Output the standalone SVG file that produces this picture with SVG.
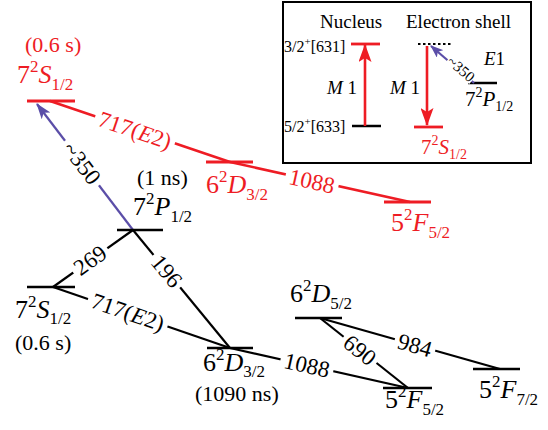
<svg xmlns="http://www.w3.org/2000/svg" width="548" height="430" viewBox="0 0 548 430">
<defs>
<style>
text{font-family:"Liberation Serif","Times New Roman",serif;}
.lv{font-size:26px;}
.lvs{font-size:21px;}
.s{font-size:17px;}
.ss{font-size:14px;}
.i{font-style:italic;}
.t{font-size:22px;}
.tl{font-size:23px;text-anchor:middle;}
.bg{fill:#fff;stroke:none;}
.red{fill:#ee1c24;}
.blk{fill:#000;}
.lk{stroke:#000;stroke-width:2.5;fill:none;}
.lr{stroke:#ee1c24;stroke-width:2.8;fill:none;}
.ck{stroke:#000;stroke-width:2.2;fill:none;}
.cr{stroke:#ee1c24;stroke-width:2.6;fill:none;}
.cb{stroke:#5b4ea8;stroke-width:2.2;fill:none;}
.in{font-size:19px;}
</style>
<marker id="ahR" markerUnits="userSpaceOnUse" markerWidth="18" markerHeight="13" viewBox="0 0 18 13" refX="17" refY="6.5" orient="auto">
<path d="M0,0 L18,6.5 L0,13 L4,6.5 z" fill="#ee1c24"/>
</marker>
<marker id="ahB" markerUnits="userSpaceOnUse" markerWidth="16" markerHeight="11" viewBox="0 0 16 11" refX="15" refY="5.5" orient="auto">
<path d="M0,0 L16,5.5 L0,11 L4,5.5 z" fill="#5b4ea8"/>
</marker>
<marker id="ahB2" markerUnits="userSpaceOnUse" markerWidth="13" markerHeight="10" viewBox="0 0 13 10" refX="12" refY="5" orient="auto">
<path d="M0,0 L13,5 L0,10 L3,5 z" fill="#5b4ea8"/>
</marker>
</defs>
<rect x="0" y="0" width="548" height="430" fill="#fff"/>

<g id="connectors">
<line class="cr" x1="50" y1="101" x2="230" y2="162"/>
<line class="cr" x1="230" y1="162" x2="410" y2="202"/>
<line class="cb" x1="133" y1="230" x2="37" y2="104" marker-end="url(#ahB)"/>
<line class="ck" x1="133" y1="230" x2="53" y2="287"/>
<line class="ck" x1="133" y1="230" x2="230" y2="348"/>
<line class="ck" x1="53" y1="287" x2="230" y2="348"/>
<line class="ck" x1="230" y1="348" x2="408" y2="388"/>
<line class="ck" x1="320" y1="318" x2="408" y2="388"/>
<line class="ck" x1="320" y1="318" x2="500" y2="369"/>
<g transform="translate(135,130) rotate(18.7)"><rect class="bg" x="-42" y="-10" width="84" height="20"/><text class="tl red" x="0" y="8">717(<tspan class="i">E</tspan>2)</text></g>
<g transform="translate(312,181) rotate(12.5)"><rect class="bg" x="-27" y="-10" width="54" height="20"/><text class="tl red" x="0" y="8">1088</text></g>
<g transform="translate(82,163) rotate(52.6)"><rect class="bg" x="-28" y="-10" width="56" height="20"/><text class="tl blk" x="0" y="8">~350</text></g>
<g transform="translate(90,260) rotate(-35.5)"><rect class="bg" x="-21" y="-10" width="42" height="20"/><text class="tl blk" x="0" y="8">269</text></g>
<g transform="translate(167,271) rotate(50.6)"><rect class="bg" x="-21" y="-10" width="42" height="20"/><text class="tl blk" x="0" y="8">196</text></g>
<g transform="translate(128,312) rotate(19)"><rect class="bg" x="-42" y="-10" width="84" height="20"/><text class="tl blk" x="0" y="8">717(<tspan class="i">E</tspan>2)</text></g>
<g transform="translate(307,365) rotate(12.7)"><rect class="bg" x="-27" y="-10" width="54" height="20"/><text class="tl blk" x="0" y="8">1088</text></g>
<g transform="translate(360,350) rotate(38.5)"><rect class="bg" x="-21" y="-10" width="42" height="20"/><text class="tl blk" x="0" y="8">690</text></g>
<g transform="translate(415,345) rotate(15.8)"><rect class="bg" x="-21" y="-10" width="42" height="20"/><text class="tl blk" x="0" y="8">984</text></g>
</g>

<g id="red-7S">
<line class="lr" x1="27" y1="101" x2="75" y2="101"/>
<text class="t red" x="25" y="52">(0.6 s)</text>
<text class="lv red" x="17" y="83">7<tspan class="s" dy="-11">2</tspan><tspan class="i" dy="11">S</tspan><tspan class="s" dy="7">1/2</tspan></text>
</g>
<g id="red-6D32">
<line class="lr" x1="206" y1="162" x2="253" y2="162"/>
<text class="lv red" x="206" y="193">6<tspan class="s" dy="-11">2</tspan><tspan class="i" dy="11">D</tspan><tspan class="s" dy="7">3/2</tspan></text>
</g>
<g id="red-5F52">
<line class="lr" x1="384" y1="202" x2="431" y2="202"/>
<text class="lv red" x="391" y="231">5<tspan class="s" dy="-11">2</tspan><tspan class="i" dy="11">F</tspan><tspan class="s" dy="7">5/2</tspan></text>
</g>

<g id="blk-7P">
<line class="lk" x1="117" y1="230" x2="163" y2="230"/>
<text class="t" x="137" y="185">(1 ns)</text>
<text class="lv" x="133" y="215">7<tspan class="s" dy="-11">2</tspan><tspan class="i" dy="11">P</tspan><tspan class="s" dy="7">1/2</tspan></text>
</g>
<g id="blk-7S">
<line class="lk" x1="27" y1="287" x2="75" y2="287"/>
<text class="lv" x="15" y="318">7<tspan class="s" dy="-11">2</tspan><tspan class="i" dy="11">S</tspan><tspan class="s" dy="6">1/2</tspan></text>
<text class="t" x="15" y="350">(0.6 s)</text>
</g>
<g id="blk-6D32">
<line class="lk" x1="207" y1="348" x2="253" y2="348"/>
<text class="lv" x="203" y="371">6<tspan class="s" dy="-11">2</tspan><tspan class="i" dy="11">D</tspan><tspan class="s" dy="6">3/2</tspan></text>
<text class="t" x="195" y="401">(1090 ns)</text>
</g>
<g id="blk-6D52">
<line class="lk" x1="295" y1="318" x2="342" y2="318"/>
<text class="lv" x="290" y="302">6<tspan class="s" dy="-11">2</tspan><tspan class="i" dy="11">D</tspan><tspan class="s" dy="7">5/2</tspan></text>
</g>
<g id="blk-5F52">
<line class="lk" x1="383" y1="388" x2="432" y2="388"/>
<text class="lv" x="385" y="408">5<tspan class="s" dy="-11">2</tspan><tspan class="i" dy="11">F</tspan><tspan class="s" dy="7">5/2</tspan></text>
</g>
<g id="blk-5F72">
<line class="lk" x1="473" y1="369" x2="520" y2="369"/>
<text class="lv" x="479" y="398">5<tspan class="s" dy="-11">2</tspan><tspan class="i" dy="11">F</tspan><tspan class="s" dy="7">7/2</tspan></text>
</g>

<g id="inset">
<rect x="283" y="2" width="248" height="161" fill="#fff" stroke="#000" stroke-width="2"/>
<text class="in" x="320" y="28">Nucleus</text>
<text class="in" x="406" y="28">Electron shell</text>
<text x="284" y="52" font-size="16">3/2<tspan font-size="11" dy="-7">+</tspan><tspan dy="7">[631]</tspan></text>
<text x="284" y="132" font-size="16">5/2<tspan font-size="11" dy="-7">+</tspan><tspan dy="7">[633]</tspan></text>
<line class="lr" x1="351" y1="44" x2="380" y2="44"/>
<line class="lk" x1="352" y1="126" x2="381" y2="126"/>
<line class="cr" x1="365" y1="126" x2="365" y2="45" marker-end="url(#ahR)"/>
<text class="in" x="327" y="94"><tspan class="i">M</tspan> 1</text>
<text class="in" x="390" y="94"><tspan class="i">M</tspan> 1</text>
<line x1="418" y1="44" x2="452" y2="44" stroke="#000" stroke-width="2" stroke-dasharray="2.5 2.5"/>
<line class="cr" x1="427" y1="46" x2="427" y2="125" marker-end="url(#ahR)"/>
<line class="lr" x1="414" y1="127" x2="443" y2="127"/>
<text class="lvs red" x="421" y="154">7<tspan class="ss" dy="-9">2</tspan><tspan class="i" dy="9">S</tspan><tspan class="ss" dy="5">1/2</tspan></text>
<line class="lk" x1="468" y1="83" x2="497" y2="83"/>
<line class="cb" x1="474" y1="83" x2="431" y2="46" marker-end="url(#ahB2)"/>
<g transform="translate(461,69) rotate(40.8)"><rect class="bg" x="-16" y="-6" width="32" height="12"/><text x="0" y="5" font-size="15" text-anchor="middle">~350</text></g>
<text class="in" x="484" y="65"><tspan class="i">E</tspan>1</text>
<text class="lvs" x="465" y="106">7<tspan class="ss" dy="-9">2</tspan><tspan class="i" dy="9">P</tspan><tspan class="ss" dy="5">1/2</tspan></text>
</g>
</svg>
